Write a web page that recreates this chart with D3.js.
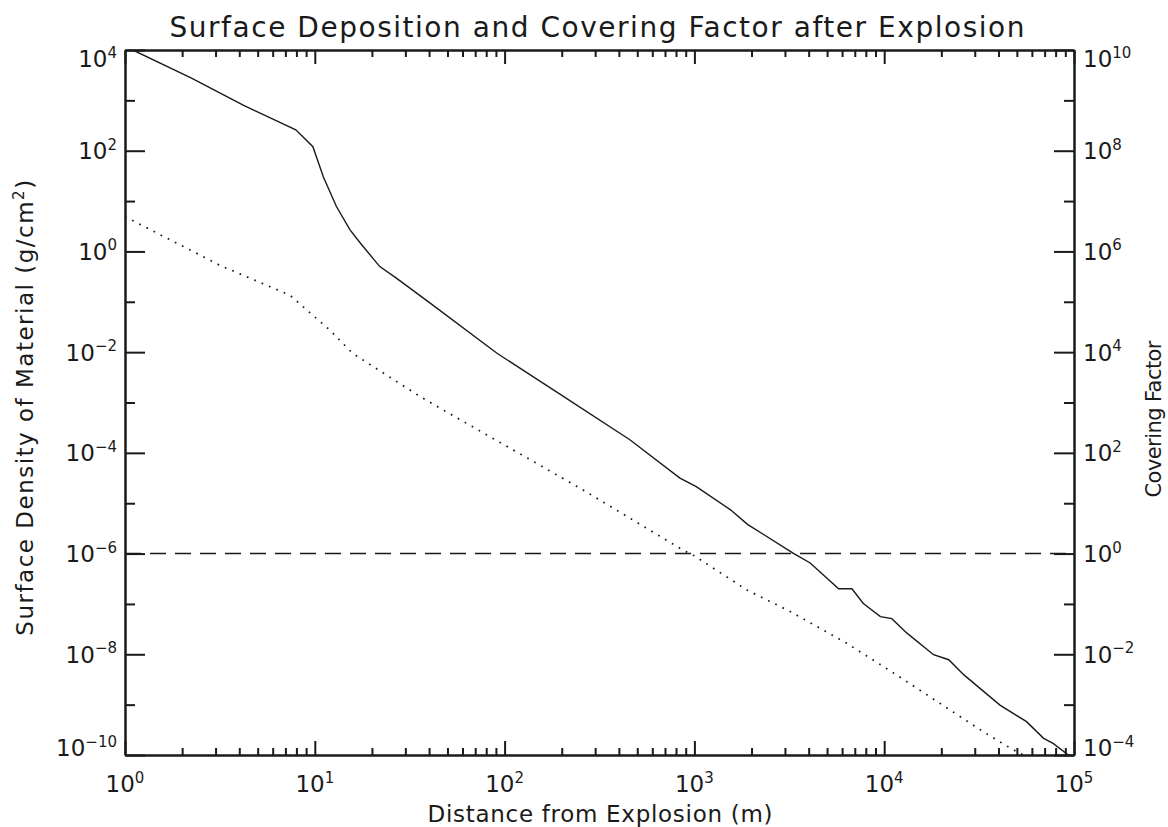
<!DOCTYPE html>
<html>
<head>
<meta charset="utf-8">
<script src="https://cdn.jsdelivr.net/npm/d3@7"></script>
<style>
  body { margin: 0; background: #fff; }
  text { font-family: "DejaVu Sans", sans-serif; fill: #1a1a1a; }
  .axis path, .axis line { stroke: #1a1a1a; }
  .axis path { stroke-width: 2; }
  .axis line { stroke-width: 2; }
</style>
</head>
<body>
<div id="chart"></div>
<script>
// solid curve: surface density (g/cm^2) against distance (m)
var distance = [1.10, 2.24, 4.17, 7.94, 9.77, 11.1, 13.0, 15.3, 17.4, 22.0, 26.9, 40.7,
                91.2, 204, 457, 839, 1023, 1549, 1905, 3311, 4074, 5754, 6761, 7762,
                9550, 10965, 13183, 18197, 21878, 26303, 40738, 56234, 69183, 77625, 93325];
var density = [1.0e4, 2.75e3, 8.1e2, 2.6e2, 1.2e2, 30, 7.8, 2.7, 1.45, 0.50, 0.295, 0.093,
               9.5e-3, 1.32e-3, 1.82e-4, 3.16e-5, 2.14e-5, 7.4e-6, 3.8e-6, 1.02e-6, 6.5e-7, 2.0e-7, 2.0e-7, 1.02e-7,
               5.6e-8, 5.1e-8, 2.63e-8, 9.8e-9, 7.8e-9, 3.9e-9, 9.8e-10, 4.6e-10, 2.14e-10, 1.7e-10, 1.0e-10];

// dotted curve
var distanceDot = [1.0, 2.48, 3.16, 7.4, 10.7, 12.0, 15.8, 35.8, 47.5, 249, 871, 986,
                   1888, 3191, 6339, 11614, 19588, 33266, 46026, 49888, 56234];
var densityDot = [4.9, 0.85, 0.53, 0.135, 0.040, 0.0275, 9.5e-3, 1.32e-3, 7.1e-4, 2.0e-5, 1.17e-6, 9.3e-7,
                  1.9e-7, 7.1e-8, 1.66e-8, 3.9e-9, 1.07e-9, 2.9e-10, 1.38e-10, 1.17e-10, 0.93e-10];

// covering factor = 1 threshold (dashed)
var threshold = 1e-6;
var thresholdX = [1, 1e5];

var xMajor = [1, 10, 100, 1e3, 1e4, 1e5];
var xExp = ["0", "1", "2", "3", "4", "5"];
var yMajor = [1e4, 1e2, 1, 1e-2, 1e-4, 1e-6, 1e-8, 1e-10];
var yExp = ["4", "2", "0", "\u22122", "\u22124", "\u22126", "\u22128", "\u221210"];
var y2Major = [1e10, 1e8, 1e6, 1e4, 1e2, 1, 1e-2, 1e-4];
var y2Exp = ["10", "8", "6", "4", "2", "0", "\u22122", "\u22124"];

(function() {
var width = 1168, height = 827;
var pLeft = 125, pRight = 1074, pTop = 50, pBottom = 755;

var svg = d3.select('#chart').append('svg')
    .attr('width', width).attr('height', height);

var x = d3.scaleLog().domain([1, 1e5]).range([pLeft, pRight]);
var y = d3.scaleLog().domain([1e-10, 1e4]).range([pBottom, pTop]);
var y2 = d3.scaleLog().domain([1e-4, 1e10]).range([pBottom, pTop]);

// minor ticks 2..9 in each decade
var xMinor = [];
for (var d = 1; d < 1e5; d *= 10) for (var k = 2; k <= 9; k++) xMinor.push(d * k);
var yMinor = [1e3, 10, 0.1, 1e-3, 1e-5, 1e-7, 1e-9];
var y2Minor = [1e9, 1e7, 1e5, 1e3, 10, 0.1, 1e-3];

svg.append('clipPath').attr('id', 'plot')
   .append('rect').attr('x', pLeft).attr('y', pTop)
   .attr('width', pRight - pLeft).attr('height', pBottom - pTop);

// ticks (drawn inward, as in the original)
function ticks(axis, vals, len, tr) {
    svg.append('g').attr('class', 'axis').attr('transform', tr)
       .call(axis.tickValues(vals).tickSizeInner(-len).tickSizeOuter(0).tickFormat(''));
}
ticks(d3.axisBottom(x), xMinor, 7, 'translate(0,' + pBottom + ')');
ticks(d3.axisBottom(x), xMajor, 14, 'translate(0,' + pBottom + ')');
ticks(d3.axisTop(x), xMinor, 7, 'translate(0,' + pTop + ')');
ticks(d3.axisTop(x), xMajor, 14, 'translate(0,' + pTop + ')');
ticks(d3.axisLeft(y), yMinor, 10, 'translate(' + pLeft + ',0)');
ticks(d3.axisLeft(y), yMajor, 20, 'translate(' + pLeft + ',0)');
ticks(d3.axisRight(y2), y2Minor, 10, 'translate(' + pRight + ',0)');
ticks(d3.axisRight(y2), y2Major, 20, 'translate(' + pRight + ',0)');
svg.selectAll('.axis text').remove();

// tick labels "10^n"
function label(px, py, exp, anchor) {
    var t = svg.append('text').attr('x', px).attr('y', py)
        .attr('text-anchor', anchor).style('font-size', '23px');
    t.append('tspan').text('10');
    t.append('tspan').attr('dy', -9.5).style('font-size', '15px').text(exp);
}
xMajor.forEach(function(v, i) { label(x(v), 792, xExp[i], 'middle'); });
function ypos(py) {
    // end labels are pulled inside the axis range
    if (py <= pTop + 1) return pTop + 17;
    if (py >= pBottom - 1) return pBottom + 1;
    return py + 8.5;
}
yMajor.forEach(function(v, i) { label(117, ypos(y(v)), yExp[i], 'end'); });
y2Major.forEach(function(v, i) { label(1083, ypos(y2(v)), y2Exp[i], 'start'); });

// curves
var plot = svg.append('g').attr('clip-path', 'url(#plot)');
var line = d3.line().x(function(d) { return x(d[0]); }).y(function(d) { return y(d[1]); });

plot.append('path')
    .attr('d', line(d3.zip(distance, density)))
    .attr('fill', 'none').attr('stroke', '#1a1a1a').attr('stroke-width', 1.4);

plot.append('path')
    .attr('d', line(d3.zip(distanceDot, densityDot)))
    .attr('fill', 'none').attr('stroke', '#1a1a1a').attr('stroke-width', 1.7)
    .attr('stroke-dasharray', '1.7,6.3');

plot.append('path')
    .attr('d', line(thresholdX.map(function(v) { return [v, threshold]; })))
    .attr('fill', 'none').attr('stroke', '#1a1a1a').attr('stroke-width', 1.6)
    .attr('stroke-dasharray', '16,9');

// titles
svg.append('text').attr('x', 597).attr('y', 37).attr('text-anchor', 'middle')
   .style('font-size', '28px').attr('textLength', 855).attr('lengthAdjust', 'spacing')
   .text('Surface Deposition and Covering Factor after Explosion');

svg.append('text').attr('x', 600).attr('y', 822).attr('text-anchor', 'middle')
   .style('font-size', '23px').attr('textLength', 345).attr('lengthAdjust', 'spacing')
   .text('Distance from Explosion (m)');

var yt = svg.append('text').attr('transform', 'translate(33,407) rotate(-90)')
   .attr('text-anchor', 'middle').style('font-size', '23px')
   .style('letter-spacing', '1.5px');
yt.append('tspan').text('Surface Density of Material (g/cm');
yt.append('tspan').attr('dy', -9).style('font-size', '15px').text('2');
yt.append('tspan').attr('dy', 9).text(')');

svg.append('text').attr('transform', 'translate(1161,419) rotate(-90)')
   .attr('text-anchor', 'middle').style('font-size', '21px')
   .attr('textLength', 157).attr('lengthAdjust', 'spacing')
   .text('Covering Factor');
})();
</script>
</body>
</html>
